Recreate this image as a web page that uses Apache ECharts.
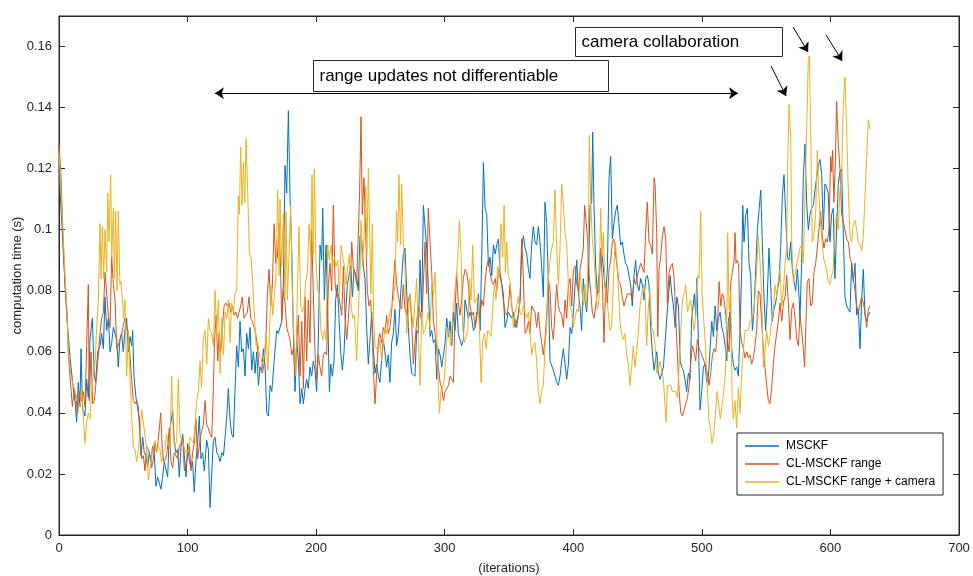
<!DOCTYPE html>
<html>
<head>
<meta charset="utf-8">
<script src="https://cdn.jsdelivr.net/npm/echarts@6/dist/echarts.min.js"></script>
<style>
  html, body { margin: 0; padding: 0; background: #fff; }
  #chart { width: 973px; height: 576px; }
</style>
</head>
<body>
<div id="chart"></div>
<script>
// [iteration, computation time (s)]
var msckf = [
  [0,0.120],[3.4,0.092],[6,0.072],[7.3,0.065],[8.6,0.058],[11.1,0.048],[12.4,0.044],[13.7,0.037],[15,0.050],[16.3,0.042],[17.1,0.061],[18.4,0.041],[20.2,0.039],[21.5,0.051],[22.8,0.045],[24.1,0.064],[25.9,0.071],[27.5,0.052],[28.5,0.050],[30.1,0.060],[31.9,0.062],[33.2,0.066],[34.5,0.061],[35.8,0.078],[37.1,0.067],[38.4,0.071],[39.7,0.060],[41,0.063],[42.3,0.068],[43.6,0.066],[44.9,0.064],[46.1,0.055],[47.4,0.064],[48.7,0.066],[50,0.060],[51.3,0.067],[52.6,0.071],[53.9,0.060],
  [55.2,0.065],[56.5,0.062],[57.3,0.067],[58.3,0.052],[59.9,0.045],[61.2,0.045],[62.5,0.038],[63.8,0.026],[65.1,0.032],[66.3,0.027],[67.6,0.026],[68.9,0.022],[70.2,0.027],[71.5,0.024],[72.8,0.029],[74.1,0.027],[75.4,0.016],[76.7,0.019],[78,0.019],[79.3,0.015],[80.6,0.019],[81.9,0.024],[83.2,0.024],[84.5,0.019],[85.8,0.033],[87.1,0.033],[88.4,0.041],[89.7,0.030],[91,0.027],[92.3,0.028],[93.6,0.019],[94.9,0.029],[96.2,0.033],[97.5,0.026],[98.8,0.019],[100.1,0.030],[101.4,0.024],[102.7,0.022],[103.9,0.024],[105.2,0.014],[106.5,0.024],[107.8,0.030],[109.1,0.039],[110.4,0.025],[111.7,0.027],[113,0.021],
  [114.9,0.031],[116.2,0.028],[117.5,0.009],[118.8,0.020],[120.1,0.031],[121.4,0.032],[122.7,0.027],[124,0.026],[125.3,0.024],[126.6,0.027],[127.9,0.026],[129.2,0.032],[130.5,0.039],[131.7,0.048],[133,0.038],[134.3,0.033],[135.6,0.032],[136.9,0.047],[138.2,0.062],[139.5,0.055],[140.8,0.070],[142.1,0.060],[143.4,0.061],[144.7,0.052],[146,0.066],[147.3,0.061],[148.6,0.068],[149.9,0.054],[151.2,0.060],[152.5,0.053],[153.8,0.060],[155.1,0.049],[156.4,0.055],[157.7,0.054],[159,0.061],[160.3,0.055],[161.6,0.040],[162.9,0.039],[164.2,0.049],[165.5,0.047],[166.8,0.054],[168.1,0.061],[169.4,0.067],[170.6,0.066],
  [171.9,0.066],[173.2,0.070],[174.5,0.082],[175.8,0.121],[177.1,0.112],[178.4,0.139],[179.7,0.111],[181,0.093],[182.3,0.066],[183.6,0.047],[184.9,0.064],[186.2,0.057],[187.5,0.043],[188.8,0.048],[190.1,0.043],[191.4,0.048],[192.6,0.051],[193.9,0.048],[195.2,0.055],[196.5,0.052],[197.8,0.057],[199.1,0.054],[200.4,0.047],[201.7,0.064],[203,0.095],[204.3,0.090],[205.1,0.107],[206.4,0.077],[207.7,0.095],[209,0.073],[210.3,0.047],[211.3,0.056],[212.6,0.052],[213.9,0.057],[215.2,0.077],[216.5,0.082],[217.8,0.082],[219.1,0.060],[220.4,0.054],[221.7,0.060],[223,0.073],[224.3,0.082],[225.6,0.082],[226.9,0.088],[228.2,0.078],[229.5,0.087],
  [230.2,0.086],[231.5,0.084],[232.8,0.080],[234.1,0.098],[235.4,0.097],[236.7,0.088],[238,0.084],[239.3,0.068],[240.6,0.056],[241.9,0.064],[243.2,0.073],[244.5,0.061],[245.8,0.053],[247.1,0.056],[248.4,0.052],[249.6,0.050],[250.9,0.057],[252.2,0.064],[253.5,0.060],[254.8,0.055],[256.1,0.059],[257.4,0.050],[258.7,0.063],[260,0.066],[261.3,0.074],[262.6,0.062],[263.9,0.066],[265.2,0.075],[266.5,0.084],[267.8,0.092],[269.1,0.094],[270.4,0.080],[271.7,0.068],[273,0.059],[274.3,0.053],[275.6,0.053],[276.9,0.052],[278.2,0.067],[279.5,0.066],[280.8,0.090],[282.1,0.073],[283.4,0.108],[284.7,0.108],[286,0.094],[287.2,0.082],
  [288.6,0.065],[289.9,0.067],[291.2,0.063],[292.5,0.064],[293.8,0.051],[295.1,0.061],[296.4,0.059],[297.7,0.055],[299,0.059],[300.3,0.063],[301.6,0.071],[302.9,0.065],[304.2,0.070],[305.5,0.062],[306.8,0.073],[308,0.067],[309.3,0.076],[310.6,0.066],[311.9,0.066],[313.2,0.062],[314.5,0.064],[315.8,0.077],[317.1,0.074],[318.4,0.071],[319.7,0.073],[321,0.071],[322.3,0.067],[323.6,0.068],[324.9,0.071],[326.2,0.079],[327.5,0.067],[328.8,0.091],[330.1,0.122],[331.4,0.107],[332.7,0.105],[334,0.088],[335.3,0.091],[336.6,0.085],[337.9,0.095],[339.2,0.092],[340.5,0.095],[341.8,0.097],[343,0.086],[344.3,0.086],[345.6,0.079],
  [346.9,0.068],[348.2,0.070],[349.5,0.073],[350.8,0.073],[352.1,0.071],[353.4,0.073],[354.7,0.068],[356,0.068],[357.3,0.072],[358.6,0.077],[359.9,0.094],[361.2,0.098],[362.5,0.094],[363.8,0.092],[365.1,0.087],[366.3,0.084],[367.6,0.095],[368.9,0.101],[370.2,0.096],[371.5,0.095],[372.8,0.101],[374.1,0.096],[375.4,0.088],[376.7,0.078],[378,0.109],[379.3,0.102],[380.6,0.083],[381.9,0.057],[383.2,0.057],[384.5,0.054],[385.8,0.052],[387.1,0.050],[388.4,0.049],[389.7,0.052],[391,0.057],[392.3,0.061],[393.6,0.056],[394.9,0.051],[396.2,0.056],[397.5,0.068],[398.8,0.066],[400.1,0.073],[401.4,0.082],[402.7,0.090],[404,0.079],
  [405.2,0.075],[406.5,0.067],[407.8,0.084],[409.1,0.077],[410.4,0.073],[411.7,0.082],[413,0.108],[414.3,0.109],[415.1,0.132],[416.1,0.108],[417.4,0.088],[418.7,0.079],[420,0.080],[421.3,0.094],[422.6,0.091],[423.9,0.085],[425.2,0.079],[426.5,0.087],[427.8,0.117],[429.1,0.124],[430.4,0.097],[431.6,0.102],[432.9,0.106],[434.2,0.108],[435.5,0.102],[436.8,0.095],[438.1,0.096],[439.4,0.092],[440.7,0.089],[442,0.088],[443.3,0.088],[444.6,0.082],[445.9,0.075],[447.2,0.085],[448.5,0.090],[449.8,0.082],[451.1,0.080],[452.4,0.084],[453.7,0.082],[455,0.077],[456.3,0.084],[457.6,0.085],[458.9,0.082],[460.2,0.068],[461.5,0.060],[462.8,0.054],
  [464.9,0.060],[466.2,0.053],[467.5,0.051],[468.8,0.051],[470.1,0.055],[471.4,0.063],[472.7,0.071],[474,0.078],[475.3,0.085],[476.6,0.079],[477.9,0.075],[479.2,0.068],[480.5,0.078],[481.8,0.075],[483.1,0.057],[484.3,0.055],[485.6,0.054],[486.9,0.051],[488.2,0.047],[489.5,0.053],[490.8,0.051],[492.1,0.071],[493.4,0.071],[494.2,0.079],[495.2,0.072],[496,0.084],[497.3,0.064],[498.6,0.041],[499.9,0.047],[501.2,0.055],[502.5,0.056],[503.8,0.050],[505.1,0.052],[506.4,0.061],[507.7,0.070],[509,0.065],[510.3,0.075],[511.6,0.067],[512.9,0.071],[514.2,0.073],[515.5,0.068],[516.8,0.066],[518.1,0.062],[519.4,0.057],[520.6,0.070],
  [521.9,0.073],[523.2,0.061],[524.5,0.056],[525.8,0.054],[527.1,0.055],[528.4,0.052],[529.7,0.067],[531,0.087],[531.8,0.108],[532.8,0.096],[534.1,0.105],[535.4,0.107],[536.7,0.089],[538,0.085],[539.3,0.067],[540.6,0.074],[541.9,0.087],[543.2,0.100],[544.5,0.100],[545.8,0.113],[547.1,0.095],[548.3,0.078],[549.6,0.067],[550.9,0.078],[552.2,0.094],[553.5,0.094],[554.8,0.070],[556.1,0.074],[557.4,0.076],[558.7,0.080],[560,0.083],[561.3,0.094],[562.6,0.111],[563.9,0.118],[565.2,0.105],[566.5,0.091],[567.8,0.090],[569.1,0.096],[570.4,0.087],[571.7,0.083],[573,0.080],[574.3,0.087],[575.6,0.078],
  [576.3,0.071],[577.6,0.089],[578.9,0.117],[580.2,0.128],[581.5,0.109],[582.8,0.100],[584.1,0.105],[585.4,0.107],[586.7,0.108],[588,0.113],[589.3,0.113],[590.6,0.121],[591.9,0.123],[593.2,0.118],[594.5,0.100],[595.7,0.115],[597,0.114],[598.3,0.112],[599.6,0.096],[600.9,0.105],[602.2,0.107],[603.5,0.084],[604.8,0.100],[606.1,0.115],[607.4,0.119],[608.7,0.120],[610,0.099],[611.3,0.078],[612.6,0.075],[613.9,0.074],[615.2,0.073],[616.5,0.089],[617.8,0.083],[619.1,0.089],[620.4,0.072],[621.7,0.074],[623,0.061],[624.3,0.077],[625.6,0.087],[626.9,0.072],[628.2,0.070],[629.5,0.072],[630.8,0.073]
];

var clRange = [
  [0,0.128],[1.5,0.118],[3.4,0.095],[4.7,0.082],[6,0.075],[7.3,0.059],[9.3,0.048],[10.4,0.042],[11.9,0.048],[13.2,0.045],[14.5,0.040],[15.8,0.047],[17.6,0.044],[18.9,0.047],[20.2,0.042],[21.5,0.062],[22.8,0.082],[23.6,0.044],[24.9,0.060],[26.2,0.043],[27.5,0.044],[28.8,0.050],[30.6,0.059],[31.9,0.066],[33.2,0.071],[34.5,0.073],[35.8,0.086],[37.1,0.086],[38.4,0.072],[39.7,0.068],[41,0.091],[42.3,0.082],[43.6,0.077],[44.9,0.061],[46.1,0.062],[47.4,0.062],[48.7,0.066],[50,0.066],[51.3,0.071],[52.6,0.068],[53.9,0.066],
  [55.2,0.059],[56.5,0.051],[57.8,0.044],[59.1,0.043],[60.4,0.044],[61.7,0.042],[63,0.032],[64.3,0.025],[65.6,0.026],[66.9,0.021],[68.2,0.029],[69.5,0.028],[70.8,0.026],[72.1,0.022],[73.4,0.025],[74.6,0.030],[75.9,0.027],[77.2,0.031],[79.1,0.040],[80.4,0.027],[81.7,0.024],[83,0.025],[84.3,0.028],[85.8,0.035],[87.1,0.024],[88.4,0.022],[89.7,0.027],[91,0.027],[92.3,0.025],[93.6,0.029],[94.9,0.030],[96.2,0.032],[97.5,0.021],[98.8,0.021],[100.1,0.026],[101.4,0.029],[102.7,0.021],[103.9,0.027],[105.2,0.030],[106.5,0.038],[107.8,0.025],[109.1,0.029],[110.4,0.033],[112.2,0.036],
  [113.6,0.044],[114.9,0.036],[116.2,0.035],[117.5,0.033],[118.8,0.032],[120.1,0.048],[120.9,0.063],[122.2,0.072],[123.5,0.057],[124.5,0.066],[125.8,0.060],[127.1,0.068],[128.4,0.075],[129.7,0.076],[131,0.075],[132.3,0.076],[133.6,0.073],[134.9,0.075],[136.2,0.072],[137.5,0.073],[138.8,0.071],[140,0.071],[141.3,0.075],[142.6,0.078],[143.9,0.071],[145.2,0.072],[146.5,0.073],[147.8,0.078],[149.1,0.071],[150.4,0.070],[151.7,0.068],[153,0.066],[154.3,0.062],[155.6,0.055],[156.9,0.054],[158.2,0.053],[159.5,0.056],[160.8,0.063],[162.1,0.079],[163.4,0.087],[164.7,0.075],[166,0.082],[167.3,0.102],[168.6,0.089],[169.9,0.091],[171.2,0.102],
  [172.5,0.084],[173.2,0.070],[174.5,0.080],[175.8,0.076],[177.1,0.068],[178.4,0.066],[179.7,0.064],[181,0.059],[182.3,0.061],[183.6,0.053],[184.9,0.063],[186.2,0.072],[187.5,0.052],[188.8,0.070],[190.1,0.048],[191.4,0.078],[192.6,0.057],[193.9,0.077],[195.2,0.063],[196.5,0.100],[197.8,0.079],[199.1,0.060],[200.4,0.051],[201.7,0.059],[203,0.055],[204.3,0.052],[205.6,0.059],[206.9,0.060],[208.2,0.059],[209.5,0.082],[210.8,0.089],[212.1,0.080],[213.4,0.108],[214.7,0.083],[216,0.078],[217.3,0.079],[218.6,0.079],[219.9,0.072],[221.2,0.088],[222.5,0.071],[223.8,0.064],[225.1,0.071],[226.4,0.080],[227.7,0.096],[229,0.087],
  [230.2,0.086],[231.5,0.082],[232.8,0.082],[233.8,0.112],[234.9,0.137],[235.9,0.105],[237.2,0.117],[238.5,0.099],[239.8,0.080],[241.1,0.075],[242.4,0.077],[243.7,0.066],[244.5,0.054],[245.8,0.043],[247.1,0.053],[248.4,0.064],[249.6,0.066],[250.9,0.063],[252.2,0.068],[253.5,0.066],[254.8,0.072],[256.1,0.066],[257.4,0.068],[258.7,0.073],[260,0.082],[261.3,0.090],[262.6,0.082],[263.9,0.082],[265.2,0.075],[266.5,0.074],[267.8,0.082],[269.1,0.074],[270.4,0.072],[271.7,0.077],[273,0.079],[274.3,0.070],[275.6,0.056],[276.9,0.063],[278.2,0.070],[279.5,0.075],[280.8,0.073],[282.1,0.070],[283.4,0.082],[284.7,0.096],[286,0.079],[287.2,0.107],
  [288.6,0.096],[289.9,0.086],[291.2,0.070],[292.5,0.066],[293.8,0.061],[295.1,0.055],[296.4,0.050],[297.7,0.048],[299,0.044],[300.3,0.047],[301.6,0.048],[302.9,0.049],[304.2,0.052],[305.5,0.051],[306.8,0.050],[308,0.073],[309.3,0.086],[310.6,0.076],[311.9,0.072],[313.2,0.077],[314.5,0.084],[315.8,0.087],[317.1,0.086],[318.4,0.082],[319.7,0.075],[321,0.072],[322.3,0.073],[323.6,0.068],[324.9,0.073],[326.2,0.073],[327.5,0.072],[328.8,0.077],[330.1,0.075],[331.4,0.083],[332.7,0.088],[334,0.090],[335.3,0.086],[336.6,0.083],[337.9,0.082],[339.2,0.084],[340.5,0.080],[341.8,0.087],[343,0.085],[344.3,0.082],[345.6,0.077],
  [346.9,0.073],[348.2,0.072],[349.5,0.075],[350.8,0.082],[352.1,0.075],[353.4,0.072],[354.7,0.071],[356,0.068],[357.3,0.072],[358.6,0.077],[359.9,0.097],[361.2,0.084],[362.5,0.066],[363.8,0.067],[365.1,0.070],[366.3,0.066],[367.6,0.075],[368.9,0.075],[370.2,0.073],[371.5,0.068],[372.8,0.073],[374.1,0.067],[375.4,0.063],[376.7,0.059],[378,0.064],[379.3,0.072],[380.6,0.084],[381.9,0.080],[383.2,0.068],[384.5,0.064],[385.8,0.073],[387.1,0.082],[388.4,0.075],[389.7,0.073],[391,0.072],[392.3,0.068],[393.6,0.077],[394.9,0.071],[396.2,0.082],[397.5,0.084],[398.8,0.075],[400.1,0.087],[401.4,0.088],[402.7,0.082],[404,0.080],
  [405.2,0.087],[406.5,0.090],[407.8,0.094],[408.8,0.108],[409.9,0.103],[410.9,0.098],[412.2,0.086],[413.5,0.080],[414.8,0.073],[416.1,0.071],[417.4,0.075],[418.7,0.079],[420,0.086],[421.3,0.094],[422.6,0.083],[423.9,0.063],[425.2,0.082],[426.5,0.076],[427.8,0.087],[429.1,0.090],[430.4,0.096],[431.6,0.097],[432.9,0.092],[434.2,0.092],[435.5,0.083],[436.8,0.082],[438.1,0.078],[439.4,0.075],[440.7,0.077],[442,0.079],[443.3,0.079],[444.6,0.079],[445.9,0.077],[447.2,0.084],[448.5,0.082],[449.8,0.085],[451.1,0.087],[452.4,0.089],[453.7,0.089],[455,0.086],[456.3,0.099],[457.6,0.109],[458.9,0.096],[460.2,0.095],[461.5,0.092],[462.8,0.117],
  [463.6,0.115],[464.9,0.099],[465.7,0.065],[466.7,0.087],[468,0.091],[469.3,0.098],[470.6,0.101],[471.9,0.097],[473.2,0.076],[474.5,0.086],[475.8,0.088],[477.1,0.089],[478.4,0.084],[479.7,0.071],[481,0.059],[482.3,0.047],[483.6,0.040],[484.9,0.039],[486.2,0.041],[487.5,0.043],[488.8,0.045],[490.1,0.049],[491.3,0.056],[492.6,0.062],[493.9,0.060],[495.2,0.057],[496.5,0.064],[497.8,0.061],[499.1,0.060],[500.4,0.060],[501.7,0.057],[503,0.055],[504.3,0.053],[505.6,0.049],[506.9,0.053],[508.2,0.059],[509.5,0.061],[510.8,0.060],[512.1,0.068],[513.4,0.083],[514.7,0.075],[516,0.079],[517.3,0.077],[518.6,0.072],[519.9,0.064],[521.2,0.060],
  [522.5,0.083],[523.8,0.086],[525.1,0.090],[525.8,0.099],[526.6,0.089],[527.6,0.090],[528.6,0.089],[529.7,0.067],[531,0.063],[532.3,0.061],[533.6,0.058],[534.9,0.060],[536.2,0.058],[537.5,0.059],[538.8,0.056],[540.1,0.058],[541.3,0.062],[542.6,0.067],[543.9,0.080],[545.2,0.079],[546.5,0.070],[547.8,0.061],[549.1,0.055],[550.4,0.049],[551.7,0.044],[553,0.043],[554.3,0.048],[555.6,0.056],[556.9,0.062],[558.2,0.066],[559.5,0.070],[560.8,0.076],[562.1,0.070],[563.4,0.076],[564.7,0.078],[566,0.085],[567.3,0.076],[568.6,0.064],[569.9,0.074],[571.2,0.076],[572.5,0.071],[573.8,0.064],[575.1,0.062],
  [576.3,0.072],[577.6,0.067],[578.9,0.061],[579.9,0.055],[581,0.070],[582,0.083],[583.3,0.084],[584.6,0.075],[585.9,0.076],[587.2,0.086],[588.5,0.089],[589.8,0.094],[591.1,0.100],[592.4,0.106],[593.7,0.098],[595,0.094],[596.3,0.097],[597.6,0.096],[598.9,0.100],[600.2,0.124],[601,0.119],[601.7,0.126],[602.7,0.109],[603.8,0.122],[604.8,0.142],[606.1,0.128],[607.4,0.120],[608.7,0.105],[610,0.105],[611.3,0.100],[612.6,0.097],[613.9,0.096],[615.2,0.091],[616.5,0.089],[617.8,0.084],[619.1,0.080],[620.4,0.075],[621.7,0.073],[623,0.073],[624.3,0.078],[625.6,0.076],[626.9,0.073],[628.2,0.068],[629.5,0.074],[630.8,0.075]
];

var clRangeCam = [
  [0,0.125],[3.4,0.097],[4.7,0.085],[6,0.075],[7.3,0.060],[9.3,0.052],[11.1,0.049],[12.4,0.049],[14.5,0.044],[16.3,0.042],[17.6,0.048],[18.9,0.039],[20.2,0.030],[21.5,0.037],[22.8,0.040],[24.1,0.038],[25.4,0.047],[26.7,0.053],[28,0.056],[29.3,0.068],[30.6,0.077],[31.9,0.102],[32.7,0.084],[33.7,0.101],[34.7,0.084],[35.8,0.100],[37.1,0.086],[37.9,0.112],[38.9,0.096],[40.2,0.118],[41,0.091],[42.3,0.107],[43,0.084],[44.1,0.106],[45.1,0.080],[46.1,0.106],[47.4,0.082],[48.2,0.083],[49.3,0.077],[50.3,0.071],[51.3,0.077],[52.6,0.052],[53.9,0.067],
  [55.2,0.051],[56.5,0.039],[57.8,0.029],[59.1,0.028],[60.4,0.024],[61.7,0.028],[63,0.033],[64.3,0.041],[65.6,0.037],[66.9,0.037],[68.2,0.028],[69.5,0.018],[70.8,0.022],[72.1,0.026],[73.4,0.029],[74.6,0.031],[75.9,0.027],[77.2,0.029],[78.5,0.028],[79.8,0.024],[81.1,0.027],[82.4,0.028],[83.7,0.033],[85,0.030],[86.3,0.028],[87.6,0.052],[88.9,0.033],[90.2,0.029],[91.5,0.031],[92.8,0.051],[94.1,0.033],[95.4,0.031],[96.7,0.030],[98,0.027],[99.3,0.028],[100.6,0.027],[101.9,0.032],[103.2,0.031],[104.5,0.030],[105.8,0.036],[107.1,0.044],[108.4,0.047],[109.7,0.057],[110.9,0.048],[112.2,0.064],
  [113.6,0.067],[114.9,0.056],[116.2,0.071],[117.5,0.067],[118.8,0.066],[120.1,0.062],[121.4,0.080],[122.7,0.066],[124,0.077],[125.3,0.053],[126.6,0.071],[127.9,0.059],[129.2,0.073],[130.5,0.071],[131.7,0.077],[133,0.063],[134.3,0.076],[135.6,0.073],[136.9,0.079],[138.2,0.080],[139.5,0.111],[140.3,0.105],[141.3,0.127],[142.4,0.108],[143.4,0.122],[144.5,0.109],[145.5,0.130],[146.8,0.112],[148.1,0.092],[149.4,0.091],[150.7,0.082],[152,0.072],[153.3,0.062],[154.6,0.063],[155.9,0.059],[157.2,0.059],[158.5,0.056],[159.8,0.059],[161.1,0.066],[162.4,0.054],[163.7,0.066],[165,0.082],[166.2,0.072],[167.5,0.078],[168.8,0.085],[170.1,0.113],[171.2,0.085],
  [171.9,0.110],[173.2,0.088],[174.5,0.105],[175.8,0.078],[176.6,0.106],[177.6,0.077],[178.9,0.092],[180.2,0.108],[181.5,0.080],[182.8,0.064],[184.1,0.052],[185.4,0.080],[186.7,0.101],[188,0.075],[189.3,0.073],[190.6,0.075],[191.9,0.083],[193.2,0.086],[194.5,0.102],[195.8,0.091],[196.8,0.118],[197.8,0.092],[198.6,0.120],[199.9,0.090],[201.2,0.080],[202.5,0.079],[203.8,0.067],[205.1,0.064],[206.4,0.067],[207.7,0.064],[209,0.095],[210.3,0.090],[211.6,0.095],[212.9,0.088],[214.2,0.091],[215.5,0.088],[216.8,0.090],[218.1,0.079],[219.4,0.095],[220.7,0.091],[222,0.088],[223.3,0.082],[224.6,0.088],[225.9,0.092],[227.2,0.075],[228.5,0.071],[229.8,0.072],
  [231.5,0.057],[232.8,0.073],[234.1,0.086],[234.9,0.103],[235.9,0.088],[237.2,0.097],[238.5,0.114],[239.5,0.092],[240.6,0.120],[241.6,0.101],[242.6,0.079],[243.7,0.102],[244.7,0.072],[245.8,0.062],[247.1,0.061],[248.4,0.060],[249.6,0.064],[250.9,0.057],[252.2,0.062],[253.5,0.068],[254.8,0.066],[256.1,0.066],[257.4,0.073],[258.7,0.075],[260,0.077],[261.3,0.082],[262.6,0.106],[263.4,0.096],[264.4,0.118],[265.7,0.095],[266.5,0.115],[267.8,0.096],[269.1,0.088],[270.4,0.066],[271.7,0.073],[273,0.079],[274.3,0.073],[275.6,0.068],[276.9,0.068],[278.2,0.084],[279.5,0.064],[280.8,0.049],[282.1,0.073],[283.4,0.066],[284.7,0.067],[286,0.070],[287.2,0.073],[288.5,0.068],
  [289.9,0.082],[291.2,0.079],[292.5,0.086],[293.8,0.068],[295.1,0.047],[295.9,0.040],[297.1,0.047],[298.4,0.048],[299.7,0.051],[301,0.060],[302.3,0.068],[303.6,0.065],[304.9,0.062],[306.2,0.072],[307.5,0.078],[308.8,0.084],[310.1,0.090],[311.4,0.103],[312.7,0.092],[314,0.068],[315.3,0.063],[316.6,0.063],[317.9,0.067],[319.2,0.084],[320.5,0.077],[321.8,0.095],[323.1,0.076],[324.4,0.076],[325.7,0.078],[327,0.068],[328.3,0.050],[329.6,0.064],[330.9,0.066],[332.2,0.061],[333.5,0.067],[334.8,0.066],[336.1,0.065],[337.4,0.075],[338.6,0.082],[339.9,0.077],[341.2,0.088],[342.5,0.084],[343.8,0.102],[345.1,0.091],[346.2,0.108],[347.2,0.086],[348.2,0.096],[349.5,0.085],[350.8,0.083],
  [352.1,0.076],[353.4,0.068],[354.7,0.073],[356,0.075],[357.3,0.078],[358.6,0.073],[359.9,0.072],[361.2,0.075],[362.5,0.073],[363.8,0.071],[365.1,0.073],[366.3,0.067],[367.6,0.059],[368.9,0.062],[370.2,0.063],[371.5,0.057],[372.8,0.047],[374.1,0.043],[375.4,0.047],[376.7,0.049],[378,0.062],[379.3,0.068],[380.6,0.084],[381.9,0.090],[383.2,0.094],[384.5,0.096],[385.8,0.113],[387.1,0.094],[388.4,0.082],[389.7,0.094],[391,0.115],[392.3,0.108],[393.6,0.099],[394.9,0.095],[396.2,0.082],[397.5,0.075],[398.8,0.073],[400.1,0.068],[401.4,0.071],[402.7,0.074],[404,0.073],
  [405.2,0.086],[406.5,0.086],[407.8,0.075],[409.1,0.082],[410.4,0.075],[411.7,0.097],[412.5,0.131],[413.5,0.110],[414.8,0.097],[416.1,0.091],[417.4,0.082],[418.7,0.074],[420,0.077],[421.3,0.107],[422.3,0.092],[423.4,0.099],[424.6,0.082],[425.9,0.077],[427.2,0.073],[428.5,0.067],[429.8,0.068],[431.1,0.082],[432.4,0.096],[433.7,0.091],[435,0.082],[436.3,0.070],[437.6,0.066],[438.9,0.064],[440.2,0.066],[441.5,0.059],[442.8,0.056],[444.1,0.049],[445.4,0.055],[446.7,0.062],[448,0.055],[449.3,0.060],[450.6,0.066],[451.9,0.075],[453.2,0.079],[454.5,0.082],[455.8,0.079],[457.1,0.062],[458.4,0.075],[459.7,0.080],[461,0.068],[462.2,0.067],
  [463.6,0.062],[464.9,0.053],[466.2,0.054],[467.5,0.057],[468.8,0.054],[470.1,0.051],[471.4,0.042],[472.2,0.037],[473.2,0.049],[474.5,0.049],[475.8,0.049],[477.1,0.047],[478.4,0.047],[479.7,0.047],[481,0.045],[482.3,0.055],[483.6,0.067],[484.9,0.077],[486.2,0.079],[487.5,0.082],[488.8,0.073],[490.1,0.073],[491.3,0.077],[492.6,0.072],[493.9,0.067],[495.2,0.072],[496.5,0.085],[497.8,0.084],[499.1,0.106],[500.2,0.079],[501.5,0.079],[502.8,0.062],[504.1,0.050],[505.4,0.038],[506.6,0.035],[507.9,0.030],[509.2,0.033],[510.5,0.039],[511.8,0.047],[513.1,0.047],[514.4,0.038],[515.7,0.038],[517,0.047],[518.3,0.053],[519.6,0.075],[520.1,0.099],[521.2,0.074],
  [522.5,0.080],[523.5,0.045],[524.5,0.038],[525.8,0.044],[527.1,0.035],[528.4,0.048],[529.7,0.040],[531,0.053],[532.3,0.061],[533.6,0.067],[534.9,0.067],[536.2,0.067],[537.5,0.070],[538.8,0.070],[540.1,0.072],[541.3,0.078],[542.6,0.087],[543.9,0.098],[545.2,0.090],[546.5,0.079],[547.8,0.055],[549.1,0.060],[550.4,0.067],[551.7,0.062],[553,0.065],[554.3,0.070],[555.6,0.073],[556.9,0.082],[558.2,0.078],[559.5,0.084],[560.8,0.087],[562.1,0.075],[563.4,0.080],[564.7,0.089],[566,0.094],[566.8,0.122],[567.8,0.141],[569.1,0.130],[569.9,0.096],[571.2,0.083],[572.5,0.085],[573.8,0.089],[575.1,0.091],
  [576.3,0.094],[577.6,0.095],[578.9,0.089],[580.2,0.111],[581.5,0.133],[582.8,0.156],[583.6,0.157],[584.6,0.133],[585.9,0.096],[587.2,0.098],[588.5,0.105],[589.8,0.126],[590.8,0.113],[591.9,0.105],[593.2,0.098],[594.5,0.091],[595.7,0.089],[597,0.087],[598.3,0.083],[599.6,0.082],[600.9,0.085],[602.2,0.087],[603.5,0.102],[604.8,0.105],[606.1,0.100],[607.4,0.113],[608.7,0.117],[610,0.141],[611.3,0.150],[612.6,0.133],[613.9,0.113],[615.2,0.098],[616.5,0.096],[617.8,0.102],[619.1,0.103],[620.4,0.100],[621.7,0.096],[623,0.095],[624.3,0.093],[625.6,0.098],[626.9,0.111],[628.2,0.124],[629.5,0.136],[630.8,0.133]
];

var seriesNames = ['MSCKF', 'CL-MSCKF range', 'CL-MSCKF range + camera'];
var seriesColors = ['#0072BD', '#D95319', '#EDB120'];

var xTicks = [0, 100, 200, 300, 400, 500, 600, 700];
var yTicks = [0, 0.02, 0.04, 0.06, 0.08, 0.1, 0.12, 0.14, 0.16];

// annotation arrows, in data units [iteration, seconds]
var rangeArrow = [[121.3, 0.1447], [528.1, 0.1447]];
var camArrows = [
  [[553.8, 0.1536], [565.5, 0.1438]],
  [[570.9, 0.1664], [582.6, 0.1582]],
  [[596.6, 0.1638], [609.1, 0.1553]]
];

var FONT = '"Liberation Sans", Arial, Helvetica, sans-serif';
var INK = '#262626';

var chart = echarts.init(document.getElementById('chart'), null, { renderer: 'canvas' });

var arrowLines = [
  { coords: rangeArrow, symbol: ['arrow', 'arrow'] }
].concat(camArrows.map(function (a) {
  return { coords: a, symbol: ['none', 'arrow'] };
}));

var series = [msckf, clRange, clRangeCam].map(function (d, i) {
  return {
    name: seriesNames[i],
    type: 'line',
    data: d,
    showSymbol: false,
    symbol: 'none',
    lineStyle: { width: 1, color: seriesColors[i] },
    itemStyle: { color: seriesColors[i] },
    animation: false,
    z: 2 + i
  };
});

series.push({
  type: 'lines',
  coordinateSystem: 'cartesian2d',
  data: arrowLines,
  symbolSize: 9,
  lineStyle: { color: '#000', width: 1, opacity: 1 },
  animation: false,
  silent: true,
  z: 10
});

function tickAxis(extra) {
  var base = {
    type: 'value',
    axisLine: { show: true, onZero: false, lineStyle: { color: INK, width: 1 } },
    axisTick: { show: true, inside: true, length: 6, lineStyle: { color: INK } },
    splitLine: { show: false }
  };
  return Object.assign(base, extra);
}

chart.setOption({
  backgroundColor: '#fff',
  animation: false,
  textStyle: { fontFamily: FONT },
  grid: {
    left: 59, right: 14, top: 16, bottom: 41,
    outerBoundsMode: 'none', containLabel: false,
    show: true, borderColor: INK, borderWidth: 1, backgroundColor: '#fff'
  },
  legend: {
    data: seriesNames.map(function (n) { return { name: n, icon: 'rect' }; }),
    orient: 'vertical',
    left: 737,
    top: 433,
    backgroundColor: '#fff',
    borderColor: INK,
    borderWidth: 1,
    borderRadius: 0,
    padding: [7, 8, 7, 8],
    itemGap: 6,
    itemWidth: 34,
    itemHeight: 1.5,
    textStyle: { fontFamily: FONT, fontSize: 12, color: '#000', lineHeight: 12, padding: [0, 0, 0, 2] }
  },
  xAxis: [tickAxis({
    position: 'bottom',
    min: 0, max: 700, interval: 100,
    name: '(iterations)',
    nameLocation: 'middle',
    nameGap: 27,
    nameMoveOverlap: false,
    nameTextStyle: { fontFamily: FONT, fontSize: 13, color: INK },
    axisTick: { show: true, inside: true, length: 6, lineStyle: { color: INK }, customValues: xTicks },
    axisLabel: { fontFamily: FONT, fontSize: 13, color: INK, margin: 7, customValues: xTicks }
  }), tickAxis({
    position: 'top',
    min: 0, max: 700, interval: 100,
    axisTick: { show: true, inside: true, length: 6, lineStyle: { color: INK }, customValues: xTicks },
    axisLabel: { show: false }
  })],
  yAxis: [tickAxis({
    position: 'left',
    min: 0, max: 0.17, interval: 0.02,
    name: 'computation time (s)',
    nameLocation: 'middle',
    nameGap: 35,
    nameMoveOverlap: false,
    nameTextStyle: { fontFamily: FONT, fontSize: 13, color: INK },
    axisTick: { show: true, inside: true, length: 6, lineStyle: { color: INK }, customValues: yTicks },
    axisLabel: { fontFamily: FONT, fontSize: 13, color: INK, margin: 7, customValues: yTicks }
  }), tickAxis({
    position: 'right',
    min: 0, max: 0.17, interval: 0.02,
    axisTick: { show: true, inside: true, length: 6, lineStyle: { color: INK }, customValues: yTicks },
    axisLabel: { show: false }
  })],
  graphic: [
    {
      type: 'group', left: 313, top: 60, z: 20,
      children: [
        { type: 'rect', shape: { x: 0, y: 0, width: 295, height: 31 }, style: { fill: '#fff', stroke: INK, lineWidth: 1 } },
        { type: 'text', x: 6, y: 15.5, style: { text: 'range updates not differentiable', fontFamily: FONT, fontSize: 17, fill: '#000', verticalAlign: 'middle' } }
      ]
    },
    {
      type: 'group', left: 575, top: 27, z: 20,
      children: [
        { type: 'rect', shape: { x: 0, y: 0, width: 207, height: 29 }, style: { fill: '#fff', stroke: INK, lineWidth: 1 } },
        { type: 'text', x: 6, y: 14.5, style: { text: 'camera collaboration', fontFamily: FONT, fontSize: 17, fill: '#000', verticalAlign: 'middle' } }
      ]
    }
  ],
  series: series
});
</script>
</body>
</html>
